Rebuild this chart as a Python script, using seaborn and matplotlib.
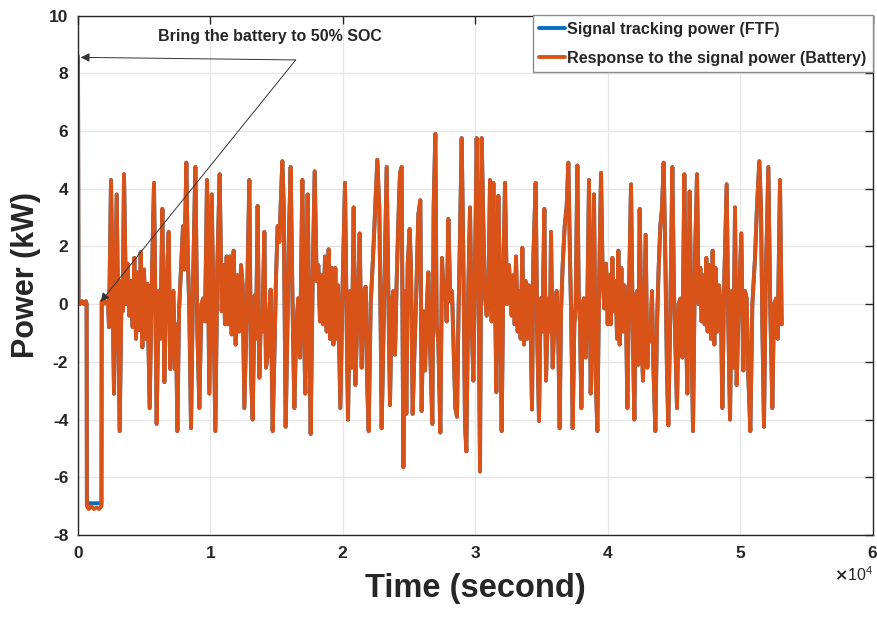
import numpy as np
import matplotlib
matplotlib.use("Agg")
import matplotlib.pyplot as plt
import seaborn as sns

# ---------------- data ----------------
# start-up phase: spike, idle, discharge to bring battery to 50% SOC, idle
t_init = [0, 40, 150, 300, 450, 600, 650, 670, 800, 1000, 1200, 1400, 1600, 1770, 1790, 1900, 2050, 2200]
p_init_batt = [8.6, 0.1, 0.0, 0.1, 0.0, 0.1, 0.0, -7.0, -7.1, -7.0, -7.1, -7.05, -7.1, -7.0, 0.1, 0.0, 0.1, 0.0]
p_init_ftf = [8.5, 0.1, 0.0, 0.1, 0.0, 0.1, 0.0, -6.9, -6.9, -6.9, -6.9, -6.9, -6.9, -6.9, 0.1, 0.0, 0.1, 0.0]

# regulation signal (seconds, kW)
t_sig1 = [2264, 2340, 2491, 2717, 2919, 3145, 3296, 3372, 3472, 3623, 3749, 3875, 4000, 4126, 4252,
          4378, 4529, 4629, 4730, 4856, 4982, 5108, 5233, 5409, 5560, 5736, 5938, 6089, 6215, 6366,
          6516, 6667, 6844, 6969, 7070, 7196, 7322, 7397, 7498, 7624, 7774, 7925, 8026, 8177, 8278,
          8403, 8529, 8680, 8856, 9007, 9158, 9309, 9460, 9586, 9737, 9913, 10089, 10366, 10517,
          10693, 10844, 10970, 11096, 11221, 11347, 11473, 11599, 11750, 11901, 12027, 12177, 12303,
          12429, 12555]
p_sig1 = [0.1, -0.8, 4.3, -3.1, 3.8, -4.4, 0.8, -0.25, 4.5, 0.0, 1.4, -0.4, 0.8, -0.8, 1.6,
          -1.2, 1.1, -0.9, 1.8, -1.5, 1.2, -1.2, 0.7, -3.6, 0.55, 4.2, -4.15, 0.45, -1.2, 3.3,
          -2.7, 0.45, 2.5, -2.25, -0.25, 0.45, -2.25, -0.7, -4.4, -0.25, 1.25, 2.7, 1.2, 4.9, 1.8,
          -0.25, -4.3, 0.65, 4.75, -0.9, -3.6, 0.0, 0.2, -0.6, 4.3, -3.1, 3.8, -4.4, 1.35,
          4.5, -0.25, 1.35, -0.7, 1.65, -0.7, 1.65, -1.05, 1.85, -1.4, 1.0, -0.95, 1.35,
          0.65, -3.6]

t_sig2 = [12780, 12930, 13056, 13182, 13333, 13434, 13559, 13685, 13786, 13912, 14063, 14188, 14289,
          14390, 14541, 14692, 14817, 14943, 15069, 15195, 15421, 15522, 15673, 15824, 15899, 16050,
          16201, 16327, 16478, 16629, 16755, 16931, 17057, 17157, 17333, 17434, 17560, 17711, 17862,
          18013, 18139, 18264, 18390, 18516, 18642, 18768, 18919, 19019, 19170, 19271, 19422, 19522,
          19623, 19799, 19950, 20151, 20277, 20378, 20529, 20655, 20806, 20931, 21082, 21258, 21409,
          21560, 21711, 21812, 21938, 22089, 22265]
p_sig2 = [0.65, 4.3, -2.4, -4.0, 0.3, -1.2, 3.4, -2.55, -0.7, -0.95, 2.5, -2.2, -1.85,
          -0.7, 0.5, -4.4, -1.85, 0.9, 2.7, 2.15, 4.95, 3.5, -4.25, -0.35, 2.05, 4.75,
          -0.25, -3.6, -0.7, 0.2, -1.85, 4.3, -0.95, -3.1, 3.8, -0.25, -4.5, 0.9, 4.6,
          0.8, 1.35, -0.6, 1.0, -0.7, 1.65, -0.95, 1.9, -1.2, 1.25, -1.4, 1.25, -1.2,
          0.65, -3.6, 0.2, 4.2, -0.7, -4.0, 0.45, -2.2, 3.35, -2.8, -0.5, 2.45, -2.2,
          0.45, 0.6, -2.55, -4.4, 0.0, 1.6]

t_sig3 = [22591, 22742, 22843, 22918, 23069, 23170, 23296, 23421, 23547, 23673, 23799, 23925, 24050,
          24176, 24302, 24428, 24554, 24679, 24780, 24881, 25032, 25132, 25258, 25384, 25535, 25686,
          25837, 25937, 26063, 26189, 26315, 26441, 26566, 26743, 26843, 26969, 27070, 27195, 27346,
          27472, 27598, 27699, 27824, 27950, 28101, 28227, 28353, 28479, 28604, 28705, 28831, 28957,
          29082, 29208, 29309, 29460, 29586, 29711, 29837, 29963, 30089, 30215, 30340, 30466, 30592,
          30718, 30844, 30969, 31095, 31221, 31347, 31473, 31573, 31724, 31850, 31976, 32102, 32227,
          32378, 32529]
p_sig3 = [5.0, 3.3, -0.8, -4.3, -0.7, 1.6, 4.75, 0.45, -3.5, 0.0, 0.45, -1.75, 0.8,
          2.85, 4.55, 4.75, -5.65, 0.45, -3.8, 1.35, 2.6, 1.25, -3.8, -1.75, 0.45, 3.1,
          3.6, -3.7, -0.25, -2.3, -0.25, 1.1, -1.4, -4.15, 3.4, 5.9, -0.7, -1.3, -4.45,
          1.6, 0.2, 0.8, -0.6, 2.95, 0.1, 0.45, -1.6, -3.6, -3.9, -0.7, 2.4, 5.75,
          1.6, -4.15, -5.1, 0.55, 3.35, -0.6, -2.65, 1.25, 5.75, 1.6, -5.8, 5.75, 2.8,
          0.3, -0.4, 0.1, 4.3, -0.6, 4.2, 0.45, -3.05, 3.75, 0.45, -4.4, 1.1, 4.2,
          0.0, 1.35]

t_sig4 = [32730, 32856, 32956, 33057, 33183, 33308, 33409, 33535, 33661, 33787, 33912, 34038, 34164,
          34265, 34365, 34541, 34667, 34793, 34919, 35044, 35195, 35321, 35497, 35623, 35699, 35824,
          35950, 36126, 36252, 36353, 36453, 36579, 36730, 36881, 37007, 37133, 37233, 37334, 37460,
          37560, 37686, 37787, 37888, 37988, 38089, 38190, 38315, 38441, 38567, 38693, 38819, 38944,
          39070, 39196, 39322, 39473, 39599, 39724, 39850, 39976, 40102, 40202, 40328, 40454, 40580,
          40680, 40781, 40882, 41007, 41133, 41234, 41360, 41460, 41586, 41737, 41863, 41989, 42089,
          42190, 42291, 42391, 42542, 42643, 42769]
p_sig4 = [-0.4, 1.0, -0.7, 1.65, -0.95, 0.45, -1.2, 1.95, -1.4, 0.8, -1.2, 0.65, -0.7,
          -3.65, 1.6, 4.2, -1.3, -4.05, 0.2, -0.95, 3.3, -2.65, 0.2, -0.95, 2.5, -2.2,
          -0.6, 0.45, -1.3, -4.3, -0.25, 1.35, 2.7, 3.4, 4.9, 1.6, -0.7, -4.3, -0.7,
          0.0, 4.8, 0.45, -0.7, -3.6, 0.0, 0.2, -1.85, 0.0, 4.3, -3.1, -0.7, 3.8,
          -2.55, -4.4, 0.45, 4.55, 0.9, -0.15, 1.4, -0.7, 1.0, -0.7, 1.6, -0.25, 0.8,
          -1.2, 1.85, -1.4, 1.25, -0.95, 0.65, -0.25, -3.6, 0.45, 4.15, -0.7, -4.0, 0.2,
          0.45, -2.1, 3.3, -1.4, -2.65, 0.45]

t_sig5 = [42842, 42968, 43069, 43195, 43320, 43421, 43572, 43698, 43824, 43949, 44075, 44201, 44327,
          44453, 44553, 44704, 44855, 44981, 45107, 45207, 45333, 45484, 45610, 45761, 45887, 45987,
          46163, 46289, 46415, 46566, 46717, 46843, 46969, 47069, 47170, 47296, 47421, 47522, 47648,
          47774, 47899, 48025, 48126, 48252, 48378, 48528, 48629, 48755, 48956, 49082, 49208, 49334,
          49459, 49585, 49711, 49837, 50063, 50214, 50340, 50466, 50592, 50743, 50894, 51095, 51246,
          51422, 51548, 51649, 51774, 51900, 52101, 52252, 52403, 52529, 52705, 52806, 52982, 53108]
p_sig5 = [2.4, -2.2, -0.7, -1.3, 0.45, -2.1, -4.4, -0.7, 1.25, 2.7, 3.3, 4.9, 1.6,
          -2.45, -4.2, -0.25, 4.75, 0.45, -1.75, -3.6, 0.0, 0.2, -1.85, 4.5, -0.7, -3.1,
          3.9, -0.5, -4.4, 1.6, 4.5, 0.0, 1.25, -0.6, 1.0, -0.7, 1.6, -0.95, 1.35,
          -1.2, 1.85, -1.4, 1.25, -0.95, 0.65, -0.25, -3.6, 0.45, 4.15, -0.7, -4.0, 0.45,
          -2.2, 3.35, -2.8, -0.5, 2.45, -2.3, 0.45, 0.2, -2.55, -4.4, 0.0, 1.6, 3.4,
          4.95, 3.3, -0.7, -4.25, 0.65, 4.75, -0.25, -3.6, 0.0, 0.2, -1.2, 4.3, -0.7]

label_ftf = "Signal tracking power (FTF)"
label_batt = "Response to the signal power (Battery)"
annotation_text = "Bring the battery to 50% SOC"
x_ticks = [0, 10000, 20000, 30000, 40000, 50000, 60000]
y_ticks = [-8, -6, -4, -2, 0, 2, 4, 6, 8, 10]

# ---------------- assemble ----------------
t_sig = t_sig1 + t_sig2 + t_sig3 + t_sig4 + t_sig5
p_sig = p_sig1 + p_sig2 + p_sig3 + p_sig4 + p_sig5
t_all = np.array(t_init + t_sig, dtype=float)
p_batt = np.array(p_init_batt + p_sig, dtype=float)
p_ftf = np.array(p_init_ftf + p_sig, dtype=float)

sns.set_style("white")
plt.rcParams['font.family'] = ['Liberation Sans', 'DejaVu Sans']
plt.rcParams['font.weight'] = 'bold'
plt.rcParams['axes.unicode_minus'] = False

BLUE = "#0072BD"
ORANGE = "#D95319"

fig = plt.figure(figsize=(8.78, 6.19), dpi=100)
ax = fig.add_axes([78 / 878, 1 - 535 / 619, (873 - 78) / 878, (535 - 15.5) / 619])

sns.lineplot(x=t_all, y=p_ftf, ax=ax, color=BLUE, linewidth=2.8, label=label_ftf,
             estimator=None, sort=False)
sns.lineplot(x=t_all, y=p_batt, ax=ax, color=ORANGE, linewidth=2.8, label=label_batt,
             estimator=None, sort=False)

ax.set_xlim(0, 60000)
ax.set_ylim(-8, 10)
ax.set_xticks(x_ticks)
ax.set_yticks(y_ticks)
ax.ticklabel_format(axis='x', style='sci', scilimits=(4, 4), useMathText=True)
ax.grid(True, color='#e6e6e6', linewidth=0.9)
ax.set_axisbelow(True)
for sp in ax.spines.values():
    sp.set_color('#262626')
    sp.set_linewidth(1.0)
ax.tick_params(direction='in', top=True, right=True, length=6, width=1,
               labelsize=12.5, colors='#262626', pad=7)
for lab in ax.get_xticklabels() + ax.get_yticklabels():
    lab.set_fontweight('bold')
ot = ax.xaxis.get_offset_text()
ot.set_fontsize(11.5)
ot.set_fontweight('normal')

ax.set_xlabel("Time (second)", fontsize=23.5, fontweight='bold', labelpad=9)
ax.set_ylabel("Power (kW)", fontsize=22, fontweight='bold', labelpad=6)

leg = ax.legend(loc='upper right', borderaxespad=0, fancybox=False, framealpha=1,
                edgecolor='#8c8c8c', handlelength=1.6, handletextpad=0.15,
                borderpad=0.4, labelspacing=0.85, prop={'weight': 'bold', 'size': 11.6})
leg.get_frame().set_linewidth(1.0)
for h in leg.get_lines():
    h.set_linewidth(2.8)

ax.text(14490, 9.27, annotation_text, ha='center', va='center', fontsize=11.5, fontweight='bold')
for tip in [(204, 8.55), (1713, 0.08)]:
    ax.annotate('', xy=tip, xytext=(16430, 8.46),
                arrowprops=dict(arrowstyle='-|>', color='#333333', lw=0.7,
                                mutation_scale=13, shrinkA=0, shrinkB=0))

fig.savefig("out.png", dpi=100)
